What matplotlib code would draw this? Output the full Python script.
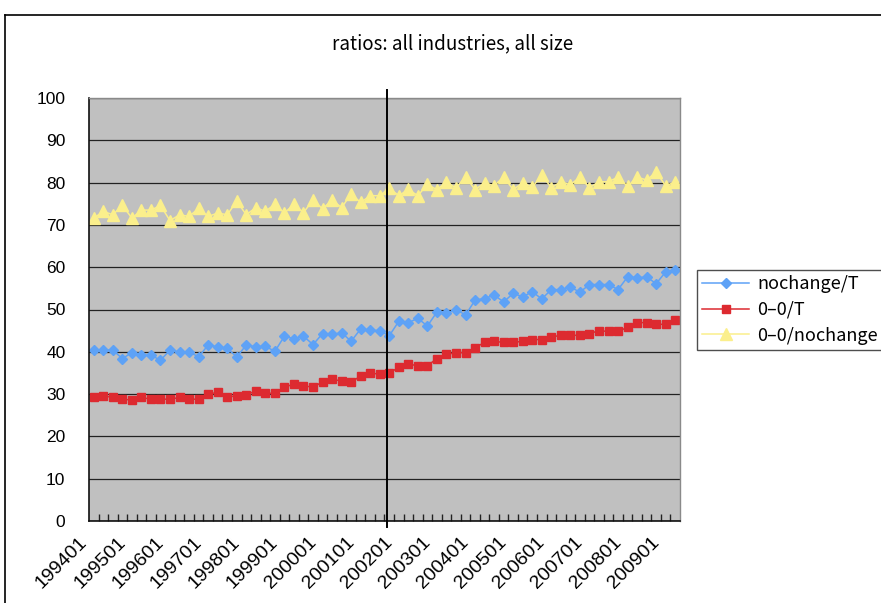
import matplotlib
matplotlib.use("Agg")
import matplotlib.pyplot as plt
from matplotlib import font_manager
from matplotlib.lines import Line2D
from matplotlib.transforms import ScaledTranslation

# quarterly periods 1994Q1 .. 2009Q2
periods = [f"{y}{q:02d}" for y in range(1994, 2010) for q in (1, 2, 3, 4)][:62]
tick_labels = [p for p in periods if p.endswith("01")]

nochange_T = [
    40.4, 40.4, 40.4, 38.4, 39.8, 39.2, 39.2, 38.0, 40.4, 40.0, 40.0, 38.8, 41.6, 41.2, 40.8, 38.8,
    41.6, 41.2, 41.3, 40.1, 43.7, 43.1, 43.7, 41.7, 44.3, 44.1, 44.5, 42.5, 45.4, 45.1, 45.0, 43.8,
    47.2, 46.9, 47.9, 46.1, 49.4, 49.1, 50.0, 48.7, 52.2, 52.6, 53.4, 51.8, 53.8, 53.0, 54.2, 52.5,
    54.7, 54.7, 55.3, 54.1, 55.9, 55.9, 55.9, 54.7, 57.7, 57.5, 57.7, 56.1, 58.9, 59.4,
]
zero_zero_T = [
    29.2, 29.6, 29.2, 28.8, 28.6, 29.2, 28.8, 28.8, 28.8, 29.2, 28.8, 28.8, 30.0, 30.4, 29.4, 29.5,
    29.9, 30.7, 30.2, 30.2, 31.6, 32.4, 32.0, 31.6, 32.9, 33.5, 33.1, 32.8, 34.3, 35.0, 34.7, 35.0,
    36.3, 37.1, 36.7, 36.7, 38.4, 39.4, 39.8, 39.8, 41.0, 42.2, 42.5, 42.2, 42.2, 42.5, 42.9, 42.9,
    43.5, 43.9, 43.9, 43.9, 44.3, 45.0, 44.8, 44.8, 45.8, 46.9, 46.9, 46.5, 46.5, 47.5,
]
zero_zero_nochange = [
    71.6, 73.2, 72.4, 74.6, 71.6, 73.5, 73.5, 74.6, 71.0, 72.4, 72.0, 73.9, 72.0, 72.8, 72.4, 75.6,
    72.4, 74.1, 73.2, 74.9, 72.8, 74.9, 72.9, 75.9, 73.8, 75.9, 74.1, 77.3, 75.3, 76.9, 76.9, 78.7,
    76.9, 78.4, 76.9, 79.6, 78.3, 80.2, 78.7, 81.4, 78.3, 80.0, 79.2, 81.4, 78.3, 80.0, 78.9, 81.8,
    78.8, 80.2, 79.5, 81.3, 78.8, 80.2, 80.2, 81.3, 79.1, 81.3, 80.6, 82.5, 79.2, 80.2,
]


def arial_like(size):
    # pick the regular (non-narrow) Liberation Sans file explicitly
    for f in font_manager.fontManager.ttflist:
        if f.name == "Liberation Sans" and f.style == "normal" and f.weight == 400 \
                and "Narrow" not in f.fname:
            return font_manager.FontProperties(fname=f.fname, size=size)
    return font_manager.FontProperties(family="DejaVu Sans", size=size)


W, H = 881, 603
fig = plt.figure(figsize=(W / 100, H / 100), dpi=100)
fig.patch.set_facecolor("white")

# outer chart frame (cropped on right and bottom in the original)
fx, fy = 5 / W, 1 - 15 / H
fig.add_artist(Line2D([fx, 1.0], [fy, fy], color="black", lw=1.2, transform=fig.transFigure))
fig.add_artist(Line2D([fx, fx], [0.0, fy], color="black", lw=1.2, transform=fig.transFigure))

ax = fig.add_axes([89 / W, 1 - 521 / H, (680 - 89) / W, (521 - 98) / H])
ax.set_facecolor("#c0c0c0")

x = list(range(len(periods)))
ax.plot(x, nochange_T, color="#5ea2f6", lw=1.1, marker="D", ms=5.2, label="nochange/T")
ax.plot(x, zero_zero_T, color="#dd2a30", lw=1.1, marker="s", ms=6.3, label="0\u20130/T")
ax.plot(x, zero_zero_nochange, color="#fbef8c", lw=1.1, marker="^", ms=8, label="0\u20130/nochange")

ax.set_xlim(-0.5, len(periods) - 0.5)
ax.set_ylim(0, 100)
ax.set_yticks(range(0, 101, 10))
ax.grid(axis="y", color="#222222", lw=0.9)
ax.set_axisbelow(True)

# divider drawn by hand around 2001Q4
break_x = periods.index("200104") - 0.2
ax.plot([break_x, break_x], [-1.4, 101.9], color="black", lw=1.4, clip_on=False, zorder=5)

for side in ("top", "right"):
    ax.spines[side].set_color("#8a8a8a")
    ax.spines[side].set_linewidth(1.0)
for side in ("left", "bottom"):
    ax.spines[side].set_color("#111111")
    ax.spines[side].set_linewidth(1.2)

# category boundaries as inward minor ticks
ax.set_xticks([i - 0.5 for i in range(1, len(periods))], minor=True)
ax.tick_params(axis="x", which="minor", direction="in", length=5, width=1, color="#222222")
ax.set_xticks([periods.index(p) for p in tick_labels], tick_labels)
ax.tick_params(axis="x", which="major", length=0, pad=0)
ax.tick_params(axis="y", length=0, pad=17)
for lab in ax.get_xticklabels():
    lab.set_rotation(45)
    lab.set_ha("right")
    lab.set_va("top")
    lab.set_rotation_mode("anchor")
    lab.set_fontproperties(arial_like(14))
    lab.set_transform(lab.get_transform() + ScaledTranslation(-0.15, -0.13, fig.dpi_scale_trans))
for lab in ax.get_yticklabels():
    lab.set_fontproperties(arial_like(12.5))

fig.text(453 / W, 1 - 44 / H, "ratios: all industries, all size", ha="center", va="center",
         fontsize=13.5, family=["Noto Sans CJK JP", "DejaVu Sans"])

leg = ax.legend(loc="upper left", bbox_to_anchor=(697 / W, 1 - 270 / H), bbox_transform=fig.transFigure,
                frameon=True, fancybox=False, edgecolor="#222222", handlelength=2.6, labelspacing=0.42,
                borderpad=0.3, handletextpad=0.45, borderaxespad=0,
                prop={"family": ["Noto Sans CJK JP", "DejaVu Sans"], "size": 13})
leg.get_frame().set_linewidth(1.0)

fig.savefig("out.png", dpi=100)
